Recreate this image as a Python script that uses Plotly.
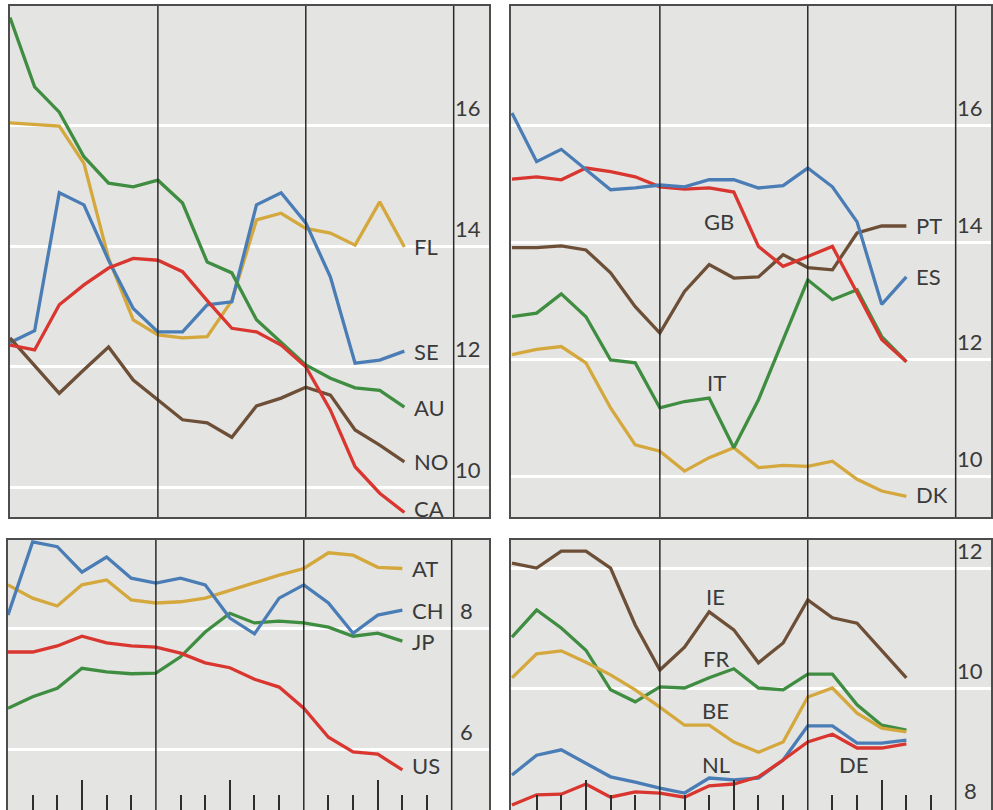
import plotly.graph_objects as go

# ---------------- data ----------------
X = list(range(17))

# top-left panel
FL = [16.05, 16.02, 16.0, 15.38, 13.8, 12.78, 12.53, 12.48, 12.5, 13.1, 14.44, 14.55, 14.3, 14.22, 14.02, 14.74, 13.99]
SE = [12.4, 12.6, 14.89, 14.69, 13.77, 12.97, 12.58, 12.58, 13.03, 13.08, 14.69, 14.89, 14.39, 13.49, 12.06, 12.11, 12.26]
AU = [17.8, 16.65, 16.23, 15.49, 15.05, 14.99, 15.1, 14.72, 13.74, 13.56, 12.78, 12.4, 12.03, 11.81, 11.65, 11.61, 11.33]
NO = [12.48, 12.03, 11.56, 11.95, 12.33, 11.78, 11.45, 11.12, 11.07, 10.83, 11.35, 11.48, 11.66, 11.53, 10.95, 10.7, 10.42]
CA = [12.36, 12.28, 13.03, 13.36, 13.64, 13.8, 13.77, 13.58, 13.1, 12.64, 12.58, 12.36, 12.0, 11.28, 10.34, 9.9, 9.58]

# top-right panel
ES = [16.22, 15.39, 15.6, 15.25, 14.91, 14.94, 14.99, 14.96, 15.08, 15.08, 14.94, 14.98, 15.28, 14.96, 14.36, 12.95, 13.42]
GB = [15.09, 15.13, 15.08, 15.28, 15.22, 15.13, 14.96, 14.92, 14.94, 14.87, 13.94, 13.6, 13.77, 13.94, 13.15, 12.35, 11.97]
PT = [13.92, 13.92, 13.95, 13.88, 13.49, 12.91, 12.46, 13.17, 13.63, 13.4, 13.42, 13.8, 13.58, 13.54, 14.17, 14.29, 14.29]
IT = [12.74, 12.8, 13.13, 12.74, 12.0, 11.95, 11.18, 11.29, 11.35, 10.5, 11.32, 12.35, 13.37, 13.03, 13.2, 12.4, 11.97]
DK = [12.09, 12.18, 12.23, 11.95, 11.18, 10.55, 10.44, 10.1, 10.33, 10.5, 10.16, 10.2, 10.18, 10.27, 9.96, 9.76, 9.67]

# bottom-left panel
AT = [8.73, 8.51, 8.38, 8.73, 8.81, 8.48, 8.43, 8.45, 8.51, 8.64, 8.76, 8.89, 9.0, 9.26, 9.22, 9.02, 9.0]
CH = [8.23, 9.44, 9.36, 8.94, 9.19, 8.84, 8.76, 8.84, 8.73, 8.18, 7.92, 8.51, 8.73, 8.43, 7.93, 8.23, 8.31]
JP = [6.69, 6.88, 7.02, 7.35, 7.29, 7.26, 7.27, 7.54, 7.95, 8.26, 8.1, 8.13, 8.1, 8.03, 7.88, 7.93, 7.8]
US = [7.62, 7.62, 7.72, 7.88, 7.77, 7.72, 7.7, 7.6, 7.44, 7.36, 7.17, 7.04, 6.69, 6.21, 5.97, 5.93, 5.67]

# bottom-right panel
IE = [12.08, 12.0, 12.28, 12.28, 12.0, 11.05, 10.3, 10.68, 11.27, 10.97, 10.42, 10.75, 11.47, 11.17, 11.08, 10.63, 10.17]
FR = [10.85, 11.3, 11.0, 10.63, 9.97, 9.77, 10.02, 10.0, 10.17, 10.32, 10.0, 9.97, 10.23, 10.23, 9.72, 9.38, 9.3]
BE = [10.17, 10.57, 10.62, 10.43, 10.22, 9.97, 9.68, 9.38, 9.38, 9.1, 8.93, 9.1, 9.85, 10.0, 9.58, 9.33, 9.27]
NL = [8.55, 8.88, 8.97, 8.75, 8.52, 8.43, 8.33, 8.25, 8.5, 8.47, 8.5, 8.8, 9.37, 9.37, 9.08, 9.08, 9.13]
DE = [8.05, 8.22, 8.23, 8.4, 8.18, 8.27, 8.25, 8.18, 8.37, 8.4, 8.52, 8.8, 9.1, 9.23, 9.0, 9.0, 9.07]

TL_TICKS = [16, 14, 12, 10]
TR_TICKS = [16, 14, 12, 10]
BL_TICKS = [8, 6]
BR_TICKS = [12, 10, 8]

# ---------------- styling ----------------
GOLD = "#d4a83c"
BLUE = "#4a7db5"
RED = "#d93630"
GREEN = "#3f8d41"
BROWN = "#6d4f37"
BG = "#e4e4e2"
TXT = "#3a3a3a"
FONT = "Lato"
FS = 22

W, H = 993, 810
PX_PER_UNIT = 24.7

# small vertical nudges (px) for end labels so they do not sit on the frame
LABEL_SHIFT = {"CA": 4, "US": 4, "DK": 2}

panels = [
    dict(px=(10, 490), py=(6, 517), first=10, yr=(9.505, 17.993), grid=[10, 12, 14, 16],
         ticks=TL_TICKS, bottom=False,
         series=[("FL", FL, GOLD), ("SE", SE, BLUE), ("AU", AU, GREEN), ("NO", NO, BROWN), ("CA", CA, RED)],
         end_labels=["FL", "SE", "AU", "NO", "CA"], inner=[]),
    dict(px=(512, 993), py=(6, 517), first=513, yr=(9.316, 18.05), grid=[10, 12, 14, 16],
         ticks=TR_TICKS, bottom=False,
         series=[("DK", DK, GOLD), ("IT", IT, GREEN), ("PT", PT, BROWN), ("GB", GB, RED), ("ES", ES, BLUE)],
         end_labels=["PT", "ES", "DK"], inner=[("GB", 8.38, 14.36), ("IT", 8.3, 11.62)]),
    dict(px=(8, 490), py=(540, 810), first=8, yr=(5.008, 9.471), grid=[6, 8],
         ticks=BL_TICKS, bottom=True,
         series=[("AT", AT, GOLD), ("JP", JP, GREEN), ("CH", CH, BLUE), ("US", US, RED)],
         end_labels=["AT", "CH", "JP", "US"], inner=[]),
    dict(px=(512, 993), py=(540, 810), first=513, yr=(7.967, 12.467), grid=[10, 12],
         ticks=BR_TICKS, bottom=True,
         series=[("IE", IE, BROWN), ("FR", FR, GREEN), ("BE", BE, GOLD), ("NL", NL, BLUE), ("DE", DE, RED)],
         end_labels=[], inner=[("IE", 8.26, 11.52), ("FR", 8.26, 10.5), ("BE", 8.26, 9.62),
                               ("NL", 8.26, 8.73), ("DE", 13.85, 8.73)]),
]

fig = go.Figure()
layout = dict(width=W, height=H, margin=dict(l=0, r=0, t=0, b=0),
              paper_bgcolor="white", plot_bgcolor=BG, showlegend=False)
shapes = []
annotations = []

major_ticks = [3, 9, 15]
minor_ticks = [1, 2, 4, 5, 7, 8, 10, 11, 13, 14, 16, 17]
vlines = [6, 12, 18]

for k, p in enumerate(panels, start=1):
    xa = "x" if k == 1 else f"x{k}"
    ya = "y" if k == 1 else f"y{k}"
    xkey = "xaxis" if k == 1 else f"xaxis{k}"
    ykey = "yaxis" if k == 1 else f"yaxis{k}"
    px0, px1 = p["px"]
    py0, py1 = p["py"]
    x0 = (px0 - p["first"]) / PX_PER_UNIT
    x1 = x0 + (px1 - px0) / PX_PER_UNIT
    xdict = dict(domain=[px0 / W, min(px1 / W, 1.0)], range=[x0, x1], anchor=ya,
                 showgrid=False, zeroline=False, showticklabels=False,
                 showline=True, mirror=True, linecolor="#4d4d4d", linewidth=1.5)
    if p["bottom"]:
        xdict.update(ticks="inside", tickmode="array", tickvals=major_ticks, ticklen=30,
                     tickcolor="#2e2e2e", tickwidth=1.5,
                     minor=dict(ticks="inside", tickmode="array", tickvals=minor_ticks,
                                ticklen=15, tickcolor="#2e2e2e", tickwidth=1.5, showgrid=False))
    else:
        xdict.update(ticks="")
    layout[xkey] = xdict
    layout[ykey] = dict(domain=[1 - py1 / H, 1 - py0 / H], range=list(p["yr"]), anchor=xa,
                        showgrid=True, gridcolor="white", gridwidth=3,
                        tickmode="array", tickvals=p["grid"], showticklabels=False, ticks="",
                        zeroline=False, showline=True, mirror=True,
                        linecolor="#4d4d4d", linewidth=1.5)

    for v in vlines:
        shapes.append(dict(type="line", xref=xa, yref=f"{ya} domain", x0=v, x1=v, y0=0, y1=1,
                           line=dict(color="#2a2a2a", width=1.5), layer="above"))

    for name, vals, col in p["series"]:
        fig.add_trace(go.Scatter(x=X, y=vals, mode="lines", name=name,
                                 line=dict(color=col, width=3.3),
                                 xaxis=xa, yaxis=ya, hoverinfo="skip"))
        if name in p["end_labels"]:
            annotations.append(dict(x=X[-1] + 0.3, y=vals[-1], xref=xa, yref=ya, text=name,
                                    showarrow=False, xanchor="left", yanchor="middle",
                                    yshift=LABEL_SHIFT.get(name, 0),
                                    font=dict(family=FONT, size=FS, color=TXT)))
    for name, lx, ly in p["inner"]:
        annotations.append(dict(x=lx, y=ly, xref=xa, yref=ya, text=name, showarrow=False,
                                xanchor="center", yanchor="middle",
                                font=dict(family=FONT, size=FS, color=TXT)))
    for t in p["ticks"]:
        annotations.append(dict(x=18.6, y=t, xref=xa, yref=ya, text=str(t), showarrow=False,
                                xanchor="center", yanchor="middle", yshift=18,
                                font=dict(family=FONT, size=FS, color=TXT)))

layout["shapes"] = shapes
layout["annotations"] = annotations
fig.update_layout(**layout)
fig.write_html("out.html", config={"displayModeBar": False},
               post_script="document.body.style.margin='0';")
